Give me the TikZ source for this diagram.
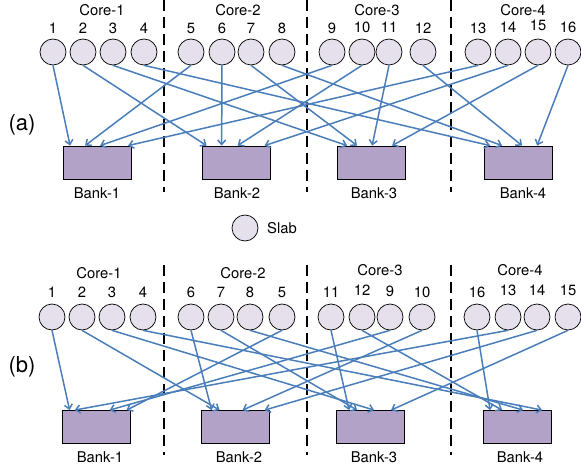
\documentclass[tikz,border=0pt]{standalone}
\usepackage{fontspec}
\setmainfont{TeX Gyre Heros}
\usetikzlibrary{arrows.meta}
\definecolor{slabfill}{HTML}{E5E0EC}
\definecolor{bankfill}{HTML}{B3A2C7}
\definecolor{linkblue}{HTML}{4A7EBB}
\tikzset{
  slab/.style={circle, draw=black, line width=0.7pt, fill=slabfill, minimum size=26pt, inner sep=0pt},
  bank/.style={rectangle, draw=black, line width=0.8pt, fill=bankfill, minimum width=68pt, minimum height=33pt, inner sep=0pt},
  lbl/.style={font=\fontsize{14.8}{16}\selectfont, inner sep=0pt},
  tag/.style={font=\fontsize{22}{24}\selectfont, inner sep=0pt},
  divider/.style={draw=black, line width=1.9pt, dash pattern=on 11pt off 6pt},
  link/.style={draw=linkblue, line width=1.5pt, -{Straight Barb[length=4.5pt,width=8pt,line width=1.5pt]}}
}
\begin{document}
\begin{tikzpicture}[x=1pt,y=-1pt]
\useasboundingbox (0,0) rectangle (581,468);

% ---------------- (a) ----------------
\node[tag] (ta) at (22,125) {(a)};
\foreach \x in {164,307,451} \draw[divider] (\x,0) -- (\x,192);

\node[lbl] (ca1) at (102,10) {Core-1};
\node[lbl] (ca2) at (238,10) {Core-2};
\node[lbl] (ca3) at (377,10) {Core-3};
\node[lbl] (ca4) at (523,10) {Core-4};

\foreach \i/\x/\ny in {1/53/28,2/83/28,3/113/28,4/144/28,5/191/28,6/222/28,7/251/28,8/282/28,
                       9/332/28,10/362/27,11/389/27,12/423/28,13/478/28,14/508/27,15/538/25,16/568/27}{
  \node[slab] (a\i) at (\x,52) {};
  \node[lbl] (na\i) at (\x,\ny) {\i};
}

\node[bank] (A1) at (97.5,162.5) {};
\node[bank] (A2) at (236,162.5) {};
\node[bank] (A3) at (371.5,162.5) {};
\node[bank] (A4) at (518.5,162.5) {};
\node[lbl] (la1) at (97,193) {Bank-1};
\node[lbl] (la2) at (237,193) {Bank-2};
\node[lbl] (la3) at (374,193) {Bank-3};
\node[lbl] (la4) at (523,193) {Bank-4};

% slab i goes to bank ((i-1) mod 4)+1
\foreach \s/\b/\d in {1/1/7,5/1/22,9/1/37,13/1/65,
                      2/2/5,6/2/20,10/2/36,14/2/63,
                      3/3/10,7/3/20,11/3/35,15/3/55,
                      4/4/6,8/4/18,12/4/38,16/4/53}{
  \draw[link] (a\s.south) -- ([xshift=\d pt]A\b.north west);
}

% legend
\node[slab] (leg) at (245,228) {};
\node[lbl, anchor=west] (legt) at (267,228) {Slab};

% ---------------- (b) ----------------
\node[tag] (tb) at (22,367) {(b)};
\foreach \x in {164,307,451} \draw[divider] (\x,265) -- (\x,455);

\node[lbl] (cb1) at (99,273) {Core-1};
\node[lbl] (cb2) at (243,273) {Core-2};
\node[lbl] (cb3) at (380,270) {Core-3};
\node[lbl] (cb4) at (520,270) {Core-4};

\foreach \i/\x/\ny in {1/52/292,2/82/292,3/112/292,4/143/292,6/191/292,7/221/292,8/250/292,5/282/292,
                       11/331/292,12/362/290,9/390/291,10/422/292,16/477/292,13/508/290,14/537/290,15/568/290}{
  \node[slab] (b\i) at (\x,317) {};
  \node[lbl] (nb\i) at (\x,\ny) {\i};
}

\node[bank] (B1) at (96,427) {};
\node[bank] (B2) at (235,427) {};
\node[bank] (B3) at (370.5,427) {};
\node[bank] (B4) at (517.5,427) {};
\node[lbl] (lb1) at (100,457) {Bank-1};
\node[lbl] (lb2) at (239,457) {Bank-2};
\node[lbl] (lb3) at (374,457) {Bank-3};
\node[lbl] (lb4) at (520,457) {Bank-4};

\foreach \s/\b/\d in {1/1/8,13/1/13,9/1/48,5/1/65,
                      6/2/11,2/2/19,10/2/42,14/2/64,
                      11/3/13,7/3/21,3/3/38,15/3/55,
                      16/4/7,12/4/19,8/4/40,4/4/59}{
  \draw[link] (b\s.south) -- ([xshift=\d pt]B\b.north west);
}
\end{tikzpicture}
\end{document}
